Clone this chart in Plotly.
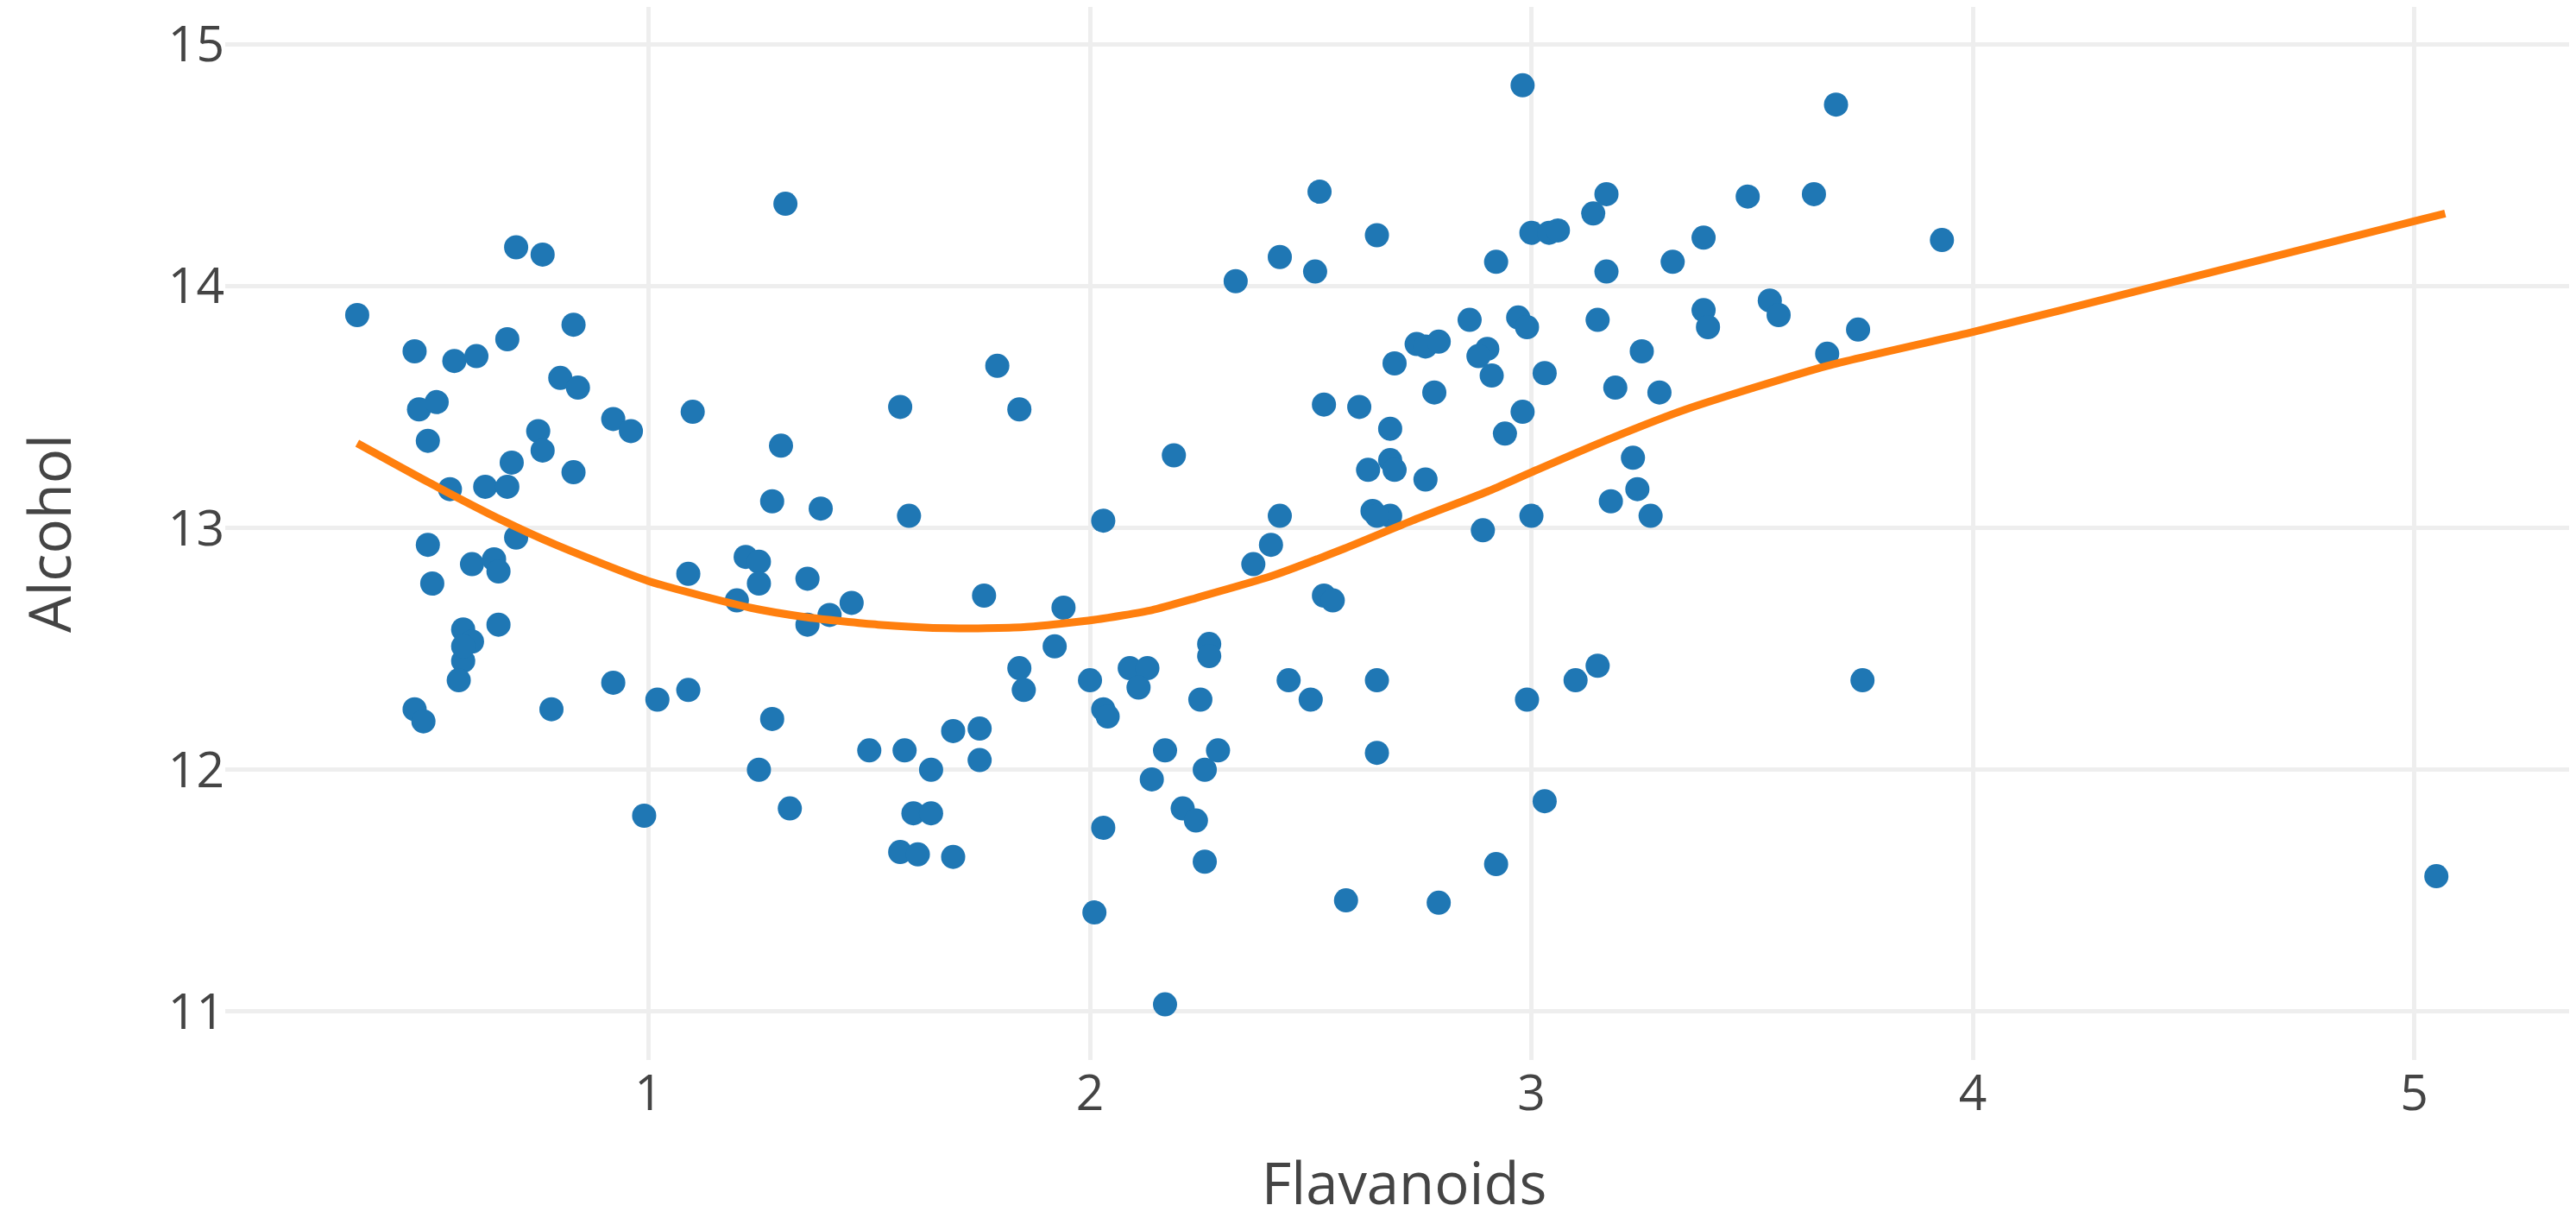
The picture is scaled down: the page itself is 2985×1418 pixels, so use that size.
import plotly.graph_objects as go

# Wine data: Flavanoids (x) vs Alcohol (y)
flavanoids = [
    0.70, 0.76, 0.34, 0.47, 0.56, 0.61, 0.68, 0.83, 0.48, 0.52, 0.50, 0.80, 0.84, 0.92, 0.96, 1.10,
    0.75, 0.76, 0.69, 0.83, 0.55, 0.63, 0.68, 0.70, 0.50, 0.60, 0.65, 0.66, 0.51, 0.58, 0.60, 0.58,
    0.58, 0.66, 0.57, 0.47, 0.49, 0.78, 0.92, 1.02, 1.09, 1.09, 1.22, 1.20, 0.99, 1.25, 1.25,
    1.31, 1.79, 1.57, 1.84, 1.30, 2.19, 1.28, 1.39, 1.59, 2.03, 1.36, 1.36, 1.41, 1.46, 1.76, 1.94,
    1.92, 1.84, 1.85, 2.00, 2.03, 2.04, 2.09, 2.13, 2.11, 2.17, 2.14, 2.21, 2.24, 2.03, 2.25, 2.26,
    1.28, 1.25, 1.32, 1.50, 1.58, 1.64, 1.69, 1.75, 1.75, 1.60, 1.64, 1.57, 1.61, 1.69, 2.01, 2.17,
    2.26, 2.27, 2.27, 2.29,
    2.33, 2.43, 2.51, 2.52, 2.65, 2.92, 3.00, 3.04, 3.06, 3.14, 3.17, 3.17, 2.86, 2.97, 2.99, 3.15,
    2.74, 2.76, 2.79, 2.69, 2.90, 2.88, 2.91, 3.03, 3.19, 3.25, 2.78, 2.53, 2.61, 2.98, 2.68, 2.94,
    2.63, 2.68, 2.69, 2.76, 3.23, 3.24, 2.43, 2.41, 2.37, 2.64, 2.68, 2.65, 2.89, 3.00, 3.18, 3.27,
    2.53, 2.55, 2.45, 2.50, 2.65, 2.99, 3.10, 3.15, 2.65, 3.03, 2.58, 2.79, 2.92, 2.98, 3.69, 3.49,
    3.64, 3.93, 3.39, 3.32, 3.39, 3.40, 3.54, 3.56, 3.74, 3.67, 3.29, 3.75, 5.05,
]
alcohol = [
    14.16, 14.13, 13.88, 13.73, 13.69, 13.71, 13.78, 13.84, 13.49, 13.52, 13.36, 13.62, 13.58, 13.45, 13.40, 13.48,
    13.40, 13.32, 13.27, 13.23, 13.16, 13.17, 13.17, 12.96, 12.93, 12.85, 12.87, 12.82, 12.77, 12.58, 12.53, 12.45,
    12.51, 12.60, 12.37, 12.25, 12.20, 12.25, 12.36, 12.29, 12.33, 12.81, 12.88, 12.70, 11.81, 12.86, 12.77,
    14.34, 13.67, 13.50, 13.49, 13.34, 13.30, 13.11, 13.08, 13.05, 13.03, 12.79, 12.60, 12.64, 12.69, 12.72, 12.67,
    12.51, 12.42, 12.33, 12.37, 12.25, 12.22, 12.42, 12.42, 12.34, 12.08, 11.96, 11.84, 11.79, 11.76, 12.29, 12.00,
    12.21, 12.00, 11.84, 12.08, 12.08, 12.00, 12.16, 12.17, 12.04, 11.82, 11.82, 11.66, 11.65, 11.64, 11.41, 11.03,
    11.62, 12.52, 12.47, 12.08,
    14.02, 14.12, 14.06, 14.39, 14.21, 14.10, 14.22, 14.22, 14.23, 14.30, 14.38, 14.06, 13.86, 13.87, 13.83, 13.86,
    13.76, 13.75, 13.77, 13.68, 13.74, 13.71, 13.63, 13.64, 13.58, 13.73, 13.56, 13.51, 13.50, 13.48, 13.41, 13.39,
    13.24, 13.28, 13.24, 13.20, 13.29, 13.16, 13.05, 12.93, 12.85, 13.07, 13.05, 13.05, 12.99, 13.05, 13.11, 13.05,
    12.72, 12.70, 12.37, 12.29, 12.37, 12.29, 12.37, 12.43, 12.07, 11.87, 11.46, 11.45, 11.61, 14.83, 14.75, 14.37,
    14.38, 14.19, 14.20, 14.10, 13.90, 13.83, 13.94, 13.88, 13.82, 13.72, 13.56, 12.37, 11.56,
]

# Smoothed trend line
trend_x = [0.34, 0.50, 0.67, 0.79, 1.00, 1.23, 1.36, 1.52, 1.68, 1.85, 2.01, 2.14, 2.24, 2.41,
           2.57, 2.73, 2.90, 3.00, 3.18, 3.35, 3.67, 4.00, 4.20, 5.07]
trend_y = [13.35, 13.19, 13.03, 12.93, 12.78, 12.67, 12.63, 12.60, 12.585, 12.59, 12.62, 12.66, 12.71, 12.80,
           12.91, 13.03, 13.15, 13.23, 13.37, 13.49, 13.67, 13.81, 13.90, 14.30]

x_ticks = [1, 2, 3, 4, 5]
y_ticks = [11, 12, 13, 14, 15]

fig = go.Figure()
fig.add_trace(go.Scatter(
    x=flavanoids, y=alcohol, mode="markers",
    marker=dict(color="#1f77b4", size=28),
    showlegend=False,
))
fig.add_trace(go.Scatter(
    x=trend_x, y=trend_y, mode="lines",
    line=dict(color="#ff7f0e", width=9, shape="spline", smoothing=0.6),
    showlegend=False,
))

font_family = "Open Sans, Verdana, sans-serif"
fig.update_layout(
    width=2985, height=1418,
    margin=dict(l=253, r=0, t=0, b=198, pad=0),
    paper_bgcolor="white", plot_bgcolor="white",
    font=dict(family=font_family, color="#444444", size=57),
    xaxis=dict(
        range=[0.041, 5.382], tickvals=x_ticks, ticktext=[str(v) for v in x_ticks],
        showgrid=True, gridcolor="#eeeeee", gridwidth=5, zeroline=False, showline=False,
        tickfont=dict(size=57, color="#444444"),
        title=dict(text="Flavanoids", font=dict(size=67, color="#444444"), standoff=46),
    ),
    yaxis=dict(
        range=[10.80, 15.154], tickvals=y_ticks, ticktext=[str(v) for v in y_ticks],
        showgrid=True, gridcolor="#eeeeee", gridwidth=5, zeroline=False, showline=False,
        tickfont=dict(size=57, color="#444444"),
        title=dict(text="Alcohol", font=dict(size=67, color="#444444"), standoff=90),
    ),
)

fig.write_html("out.html")
